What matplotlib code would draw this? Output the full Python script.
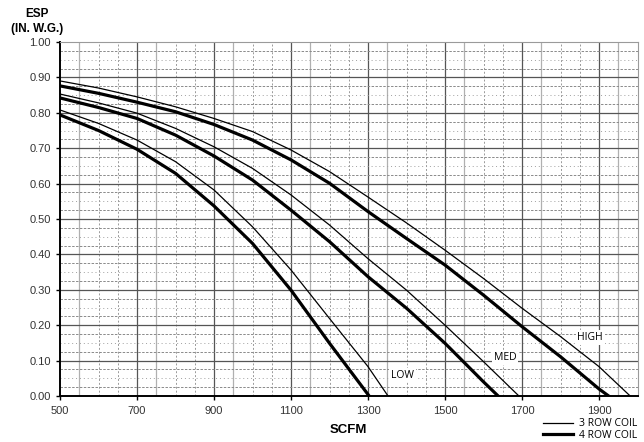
import matplotlib

matplotlib.use("Agg")
import matplotlib.pyplot as plt
from matplotlib.ticker import FixedLocator

plt.rcParams["font.family"] = ["Liberation Sans", "DejaVu Sans"]

# ---------------------------------------------------------------------------
# Fan curves (SCFM vs ESP, in. w.g.)
# ---------------------------------------------------------------------------
high_3row_x = [500, 600, 700, 800, 900, 1000, 1100, 1200, 1300, 1400, 1500, 1600, 1700, 1800, 1900, 1981]
high_3row_y = [0.890, 0.870, 0.845, 0.817, 0.784, 0.747, 0.695, 0.634, 0.562, 0.489, 0.412, 0.332, 0.248, 0.168, 0.083, 0.0]

high_4row_x = [500, 600, 700, 800, 900, 1000, 1100, 1200, 1300, 1400, 1500, 1600, 1700, 1800, 1900, 1925]
high_4row_y = [0.876, 0.855, 0.830, 0.803, 0.767, 0.723, 0.667, 0.601, 0.521, 0.445, 0.370, 0.285, 0.196, 0.111, 0.020, 0.0]

med_3row_x = [500, 600, 700, 800, 900, 1000, 1100, 1200, 1300, 1400, 1500, 1600, 1692]
med_3row_y = [0.853, 0.828, 0.799, 0.756, 0.704, 0.643, 0.568, 0.483, 0.388, 0.299, 0.200, 0.097, 0.0]

med_4row_x = [500, 600, 700, 800, 900, 1000, 1100, 1200, 1300, 1400, 1500, 1600, 1638]
med_4row_y = [0.842, 0.815, 0.784, 0.737, 0.678, 0.610, 0.525, 0.436, 0.337, 0.248, 0.149, 0.040, 0.0]

low_3row_x = [500, 600, 700, 800, 900, 1000, 1100, 1200, 1300, 1352]
low_3row_y = [0.808, 0.770, 0.723, 0.662, 0.582, 0.478, 0.356, 0.219, 0.083, 0.0]

low_4row_x = [500, 600, 700, 800, 900, 1000, 1100, 1200, 1303]
low_4row_y = [0.794, 0.750, 0.697, 0.629, 0.537, 0.431, 0.299, 0.149, 0.0]

speed_labels = ["LOW", "MED", "HIGH"]
speed_label_x = [1390, 1657, 1877]
speed_label_y = [0.059, 0.109, 0.165]

x_ticks = [500, 700, 900, 1100, 1300, 1500, 1700, 1900]
y_ticks = [0.0, 0.1, 0.2, 0.3, 0.4, 0.5, 0.6, 0.7, 0.8, 0.9, 1.0]

THIN = 0.9
THICK = 2.3

fig = plt.figure(figsize=(6.44, 4.42), dpi=100)
ax = fig.add_axes([60 / 644, 46 / 442, 577.5 / 644, 354 / 442])
ax.set_xlim(500, 2000)
ax.set_ylim(0, 1.0)

# ---------------------------------------------------------------------------
# Grid: old spreadsheet style, mixed solid / dashed / dotted
# ---------------------------------------------------------------------------
for i in range(1, 30):
    xv = 500 + 50 * i
    if (xv - 700) % 200 == 0:
        ax.axvline(xv, color="#555555", lw=0.9, zorder=1)
    elif (xv - 750) % 200 == 0 or xv == 550:
        ax.axvline(xv, color="#b0b0b0", lw=0.9, zorder=1)
    else:
        ax.axvline(xv, color="#9a9a9a", lw=0.7, ls=(0, (2, 2)), zorder=1)

for i in range(1, 40):
    yv = i * 0.025
    if i % 4 == 0:
        ax.axhline(yv, color="#555555", lw=0.9, zorder=1)
    elif i % 2 == 0:
        ax.axhline(yv, color="#a0a0a0", lw=0.7, ls=(0, (1, 3)), zorder=1)
    else:
        ax.axhline(yv, color="#8a8a8a", lw=0.7, ls=(0, (2.5, 1.5)), zorder=1)

# ---------------------------------------------------------------------------
# Curves
# ---------------------------------------------------------------------------
thin_line, = ax.plot(high_3row_x, high_3row_y, color="black", lw=THIN, zorder=3)
thick_line, = ax.plot(high_4row_x, high_4row_y, color="black", lw=THICK, zorder=3)
ax.plot(med_3row_x, med_3row_y, color="black", lw=THIN, zorder=3)
ax.plot(med_4row_x, med_4row_y, color="black", lw=THICK, zorder=3)
ax.plot(low_3row_x, low_3row_y, color="black", lw=THIN, zorder=3)
ax.plot(low_4row_x, low_4row_y, color="black", lw=THICK, zorder=3)

for label, lx, ly in zip(speed_labels, speed_label_x, speed_label_y):
    ax.text(lx, ly, label, ha="center", va="center", fontsize=7.5,
            family=["Open Sans", "DejaVu Sans"], zorder=4,
            bbox=dict(facecolor="white", edgecolor="none", pad=1.2))

# ---------------------------------------------------------------------------
# Axes styling
# ---------------------------------------------------------------------------
for side in ("top", "right"):
    ax.spines[side].set_color("#9a9a9a")
    ax.spines[side].set_linestyle((0, (1, 1)))
    ax.spines[side].set_linewidth(0.8)
ax.spines["left"].set_linewidth(1.4)
ax.spines["bottom"].set_linewidth(1.4)

ax.xaxis.set_major_locator(FixedLocator(x_ticks))
ax.yaxis.set_major_locator(FixedLocator(y_ticks))
ax.set_yticklabels([f"{v:.2f}" for v in y_ticks])
ax.tick_params(axis="both", direction="out", length=3, width=1, labelsize=8,
               colors="black", labelcolor="#333333")
ax.tick_params(axis="x", pad=4)

ax.set_xlabel("SCFM", fontsize=9.5, fontweight="bold", labelpad=6)
fig.text(37 / 644, 1 - 14 / 442, "ESP", fontsize=8.5, fontweight="bold",
         ha="center", va="center")
fig.text(37 / 644, 1 - 29 / 442, "(IN. W.G.)", fontsize=8.5, fontweight="bold",
         ha="center", va="center")

leg = ax.legend([thin_line, thick_line], ["3 ROW COIL", "4 ROW COIL"],
                loc="upper right", bbox_to_anchor=(1.01, -0.045), frameon=False,
                fontsize=7.5, handlelength=2.8, handletextpad=0.6,
                labelspacing=0.05, borderpad=0.1,
                prop={"family": ["Open Sans", "DejaVu Sans"], "size": 7.5})

fig.savefig("out.png", dpi=100)
